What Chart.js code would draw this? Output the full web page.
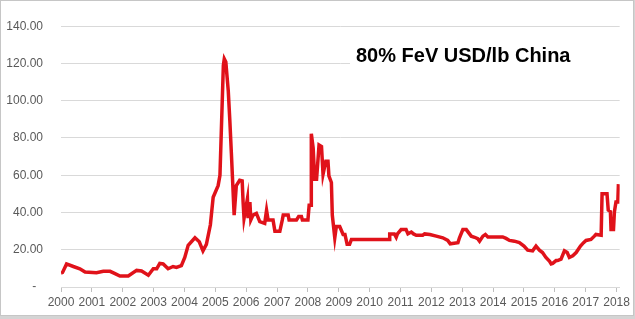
<!DOCTYPE html>
<html>
<head>
<meta charset="utf-8">
<script src="https://cdn.jsdelivr.net/npm/chart.js@4.4.1/dist/chart.umd.min.js"></script>
<style>
    html, body { margin: 0; padding: 0; background: #d4d4d4; }
    #box {
        position: absolute; left: 0; top: 0;
        width: 632px; height: 314px;
        border: 1px solid #c6c6c6; background: #ffffff;
    }
    #box canvas { display: block; }
</style>
</head>
<body>
<div id="box"><canvas id="fevChart" width="632" height="314"></canvas></div>
<script>
// weekly-ish price points (decimal year, USD/lb)
const years = [
    2000.00, 2000.05, 2000.18, 2000.40, 2000.61, 2000.78, 2001.15, 2001.37, 2001.59, 2001.75,
    2001.91, 2002.18, 2002.45, 2002.61, 2002.83, 2002.99, 2003.10, 2003.20, 2003.31, 2003.47,
    2003.63, 2003.74, 2003.90, 2004.01, 2004.12, 2004.34, 2004.48, 2004.60, 2004.71, 2004.84,
    2004.93, 2005.09, 2005.15, 2005.26, 2005.29, 2005.34, 2005.42, 2005.47, 2005.52, 2005.61,
    2005.68, 2005.79, 2005.87, 2005.90, 2005.93, 2006.04, 2006.06, 2006.12, 2006.15, 2006.22,
    2006.33, 2006.44, 2006.60, 2006.66, 2006.71, 2006.87, 2006.93, 2007.09, 2007.17, 2007.20,
    2007.36, 2007.39, 2007.63, 2007.70, 2007.79, 2007.82, 2008.00, 2008.04, 2008.10, 2008.11,
    2008.17, 2008.22, 2008.28, 2008.36, 2008.44, 2008.49, 2008.58, 2008.65, 2008.68, 2008.76,
    2008.79, 2008.87, 2008.92, 2009.03, 2009.14, 2009.20, 2009.27, 2009.35, 2009.41, 2010.63,
    2010.65, 2010.80, 2010.86, 2010.90, 2011.02, 2011.18, 2011.24, 2011.35, 2011.42, 2011.51,
    2011.72, 2011.78, 2011.95, 2012.16, 2012.37, 2012.53, 2012.61, 2012.86, 2012.91, 2013.02,
    2013.13, 2013.29, 2013.40, 2013.50, 2013.56, 2013.67, 2013.75, 2013.83, 2014.31, 2014.42,
    2014.53, 2014.69, 2014.85, 2015.00, 2015.12, 2015.28, 2015.39, 2015.50, 2015.60, 2015.71,
    2015.83, 2015.88, 2015.93, 2016.04, 2016.09, 2016.20, 2016.31, 2016.40, 2016.47, 2016.58,
    2016.69, 2016.83, 2016.93, 2017.01, 2017.17, 2017.28, 2017.33, 2017.50, 2017.53, 2017.69,
    2017.73, 2017.80, 2017.82, 2017.90, 2017.93, 2017.98, 2018.04, 2018.06
];
const prices = [
    7.5, 7.8, 12.4, 11.0, 9.8, 8.0, 7.7, 8.5, 8.4, 7.2,
    5.9, 5.9, 8.9, 8.6, 6.3, 9.8, 9.8, 12.7, 12.4, 9.8,
    11.0, 10.5, 11.5, 15.9, 22.4, 26.4, 24.3, 19.4, 22.9, 33.4,
    48.2, 54.4, 60.0, 119.0, 122.5, 120.8, 105.0, 89.3, 71.8, 38.6,
    54.4, 57.3, 57.0, 45.6, 36.9, 47.4, 37.0, 45.6, 36.0, 38.6,
    39.5, 35.1, 34.2, 41.2, 36.0, 36.0, 29.9, 29.9, 36.0, 38.6,
    38.6, 36.0, 36.0, 37.8, 37.8, 36.0, 36.0, 43.9, 43.9, 82.3,
    74.5, 57.8, 57.8, 76.2, 75.4, 60.5, 67.5, 67.5, 59.6, 56.1,
    38.6, 26.4, 32.5, 32.5, 28.2, 28.2, 22.9, 22.9, 25.5, 25.5,
    28.5, 28.5, 26.7, 28.5, 30.8, 30.8, 28.5, 29.5, 28.5, 27.8,
    27.8, 28.5, 28.2, 27.3, 26.4, 25.0, 23.2, 23.8, 26.4, 30.8,
    30.8, 27.3, 26.7, 25.9, 24.6, 27.3, 28.2, 26.9, 26.9, 26.1,
    25.0, 24.6, 23.8, 22.0, 19.8, 19.4, 22.0, 19.8, 18.5, 15.9,
    13.8, 12.4, 12.7, 14.2, 14.2, 15.0, 19.4, 18.5, 15.9, 16.8,
    18.5, 22.0, 23.8, 25.0, 25.5, 27.3, 28.2, 27.8, 50.0, 50.0,
    41.3, 40.4, 30.8, 30.8, 40.4, 45.6, 45.6, 55.2
];
const yearTicks = [2000, 2001, 2002, 2003, 2004, 2005, 2006, 2007, 2008, 2009,
    2010, 2011, 2012, 2013, 2014, 2015, 2016, 2017, 2018];
const priceTicks = [0, 20, 40, 60, 80, 100, 120, 140];
const chartTitle = "80% FeV USD/lb China";

// title sits inside the plot area on a white box, like the excel one
const titleBox = {
    id: 'titleBox',
    beforeDatasetsDraw(chart) {
        const ctx = chart.ctx;
        const area = chart.chartArea;
        ctx.save();
        ctx.fillStyle = '#ffffff';
        ctx.fillRect(349, 38, area.right - 349 + 1, 32);
        ctx.fillStyle = '#000000';
        ctx.font = 'bold 20px "Liberation Sans", Arial, sans-serif';
        ctx.textBaseline = 'alphabetic';
        ctx.textAlign = 'left';
        ctx.fillText(chartTitle, 355, 61);
        ctx.restore();
    }
};

document.addEventListener('DOMContentLoaded', function () {
    initCharts();
});

function initCharts() {
    const points = years.map(function (x, i) { return { x: x, y: prices[i] }; });

    createChart("fevChart", {
        type: "line",
        data: {
            datasets: [
                {
                    label: chartTitle,
                    data: points,
                    borderColor: "#e0121a",
                    borderWidth: 3.5,
                    pointRadius: 0,
                    tension: 0,
                    fill: false,
                },
            ],
        },
        options: {
            responsive: false,
            animation: false,
            layout: { padding: { top: 19, right: 13, left: 0, bottom: 0 } },
            plugins: {
                legend: { display: false },
                tooltip: { enabled: false },
            },
            scales: {
                x: {
                    type: "linear",
                    min: 2000,
                    max: 2018.1,
                    afterBuildTicks: function (scale) {
                        scale.ticks = yearTicks.map(function (v) { return { value: v }; });
                    },
                    afterFit: function (scale) { scale.height = 28; },
                    grid: {
                        drawOnChartArea: false,
                        drawTicks: true,
                        tickLength: 5,
                        color: "#bfbfbf",
                    },
                    border: { display: true, color: "#d9d9d9" },
                    ticks: {
                        autoSkip: false,
                        maxRotation: 0,
                        padding: 3,
                        color: "#595959",
                        font: { family: "'Liberation Sans Narrow', 'Liberation Sans', Arial", size: 12 },
                        callback: function (v) { return String(v); },
                    },
                },
                y: {
                    min: 0,
                    max: 140,
                    afterBuildTicks: function (scale) {
                        scale.ticks = priceTicks.map(function (v) { return { value: v }; });
                    },
                    afterFit: function (scale) { scale.width = 60; },
                    grid: { color: "#d9d9d9", drawTicks: false },
                    border: { display: false },
                    ticks: {
                        padding: 18,
                        color: "#595959",
                        font: { family: "'Liberation Sans', Arial", size: 12 },
                        callback: function (v) { return v === 0 ? "-  " : v.toFixed(2); },
                    },
                },
            },
        },
        plugins: [titleBox],
    });
}

function createChart(id, config) {
    const ctx = document.getElementById(id);
    if (!ctx) {
        console.error(`Canvas element with id '${id}' not found`);
        return;
    }

    if (ctx.chart) {
        ctx.chart.destroy();
    }

    ctx.chart = new Chart(ctx, config);
}
</script>
</body>
</html>
